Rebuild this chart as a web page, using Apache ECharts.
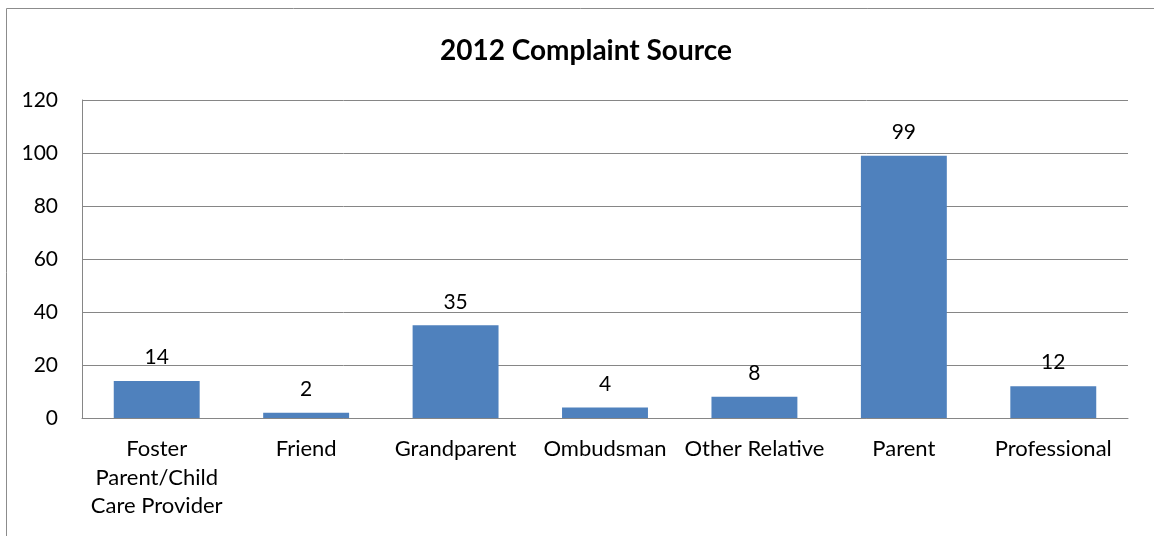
<!DOCTYPE html>
<html>
<head>
<meta charset="utf-8">
<script src="https://cdn.jsdelivr.net/npm/echarts@6/dist/echarts.min.js"></script>
<style>
html,body{margin:0;padding:0;background:#fff;}
#chart{width:1154px;height:536px;}
</style>
</head>
<body>
<div id="chart"></div>
<script>
const titleText = '2012 Complaint Source';
const categories = ['Foster\nParent/Child\nCare Provider', 'Friend', 'Grandparent', 'Ombudsman', 'Other Relative', 'Parent', 'Professional'];
const values = [14, 2, 35, 4, 8, 99, 12];
const yTicks = { min: 0, max: 120, interval: 20 };

const FONT = 'Lato';
const chart = echarts.init(document.getElementById('chart'), null, { renderer: 'canvas' });
chart.setOption({
  backgroundColor: '#fff',
  animation: false,
  title: {
    text: titleText,
    left: 581, top: 32, textAlign: 'center',
    textStyle: { fontFamily: FONT, fontWeight: 'bold', fontSize: 28, color: '#000' }
  },
  graphic: [{
    type: 'rect', shape: { x: 6.5, y: 8.5, width: 1300, height: 700 },
    style: { fill: 'none', stroke: '#8c8c8c', lineWidth: 1 }, silent: true, z: -1
  }],
  grid: { left: 82, top: 100, right: 26, bottom: 118, containLabel: false },
  xAxis: {
    type: 'category', data: categories,
    axisLine: { show: true, lineStyle: { color: '#868686', width: 1 } },
    axisTick: { show: false },
    axisLabel: { interval: 0, margin: 17, fontFamily: FONT, fontSize: 22, color: '#000', lineHeight: 28.5 }
  },
  yAxis: {
    type: 'value', min: yTicks.min, max: yTicks.max, interval: yTicks.interval,
    axisLine: { show: true, lineStyle: { color: '#868686', width: 1 } },
    axisTick: { show: false },
    axisLabel: { margin: 24, fontFamily: FONT, fontSize: 21, color: '#000' },
    splitLine: { show: true, lineStyle: { color: '#868686', width: 1 } }
  },
  series: [{
    type: 'bar', data: values, barWidth: '57.5%',
    itemStyle: { color: '#4F81BD' },
    label: { show: true, position: 'top', distance: 13, fontFamily: FONT, fontSize: 21, color: '#000' }
  }]
});
</script>
</body>
</html>
